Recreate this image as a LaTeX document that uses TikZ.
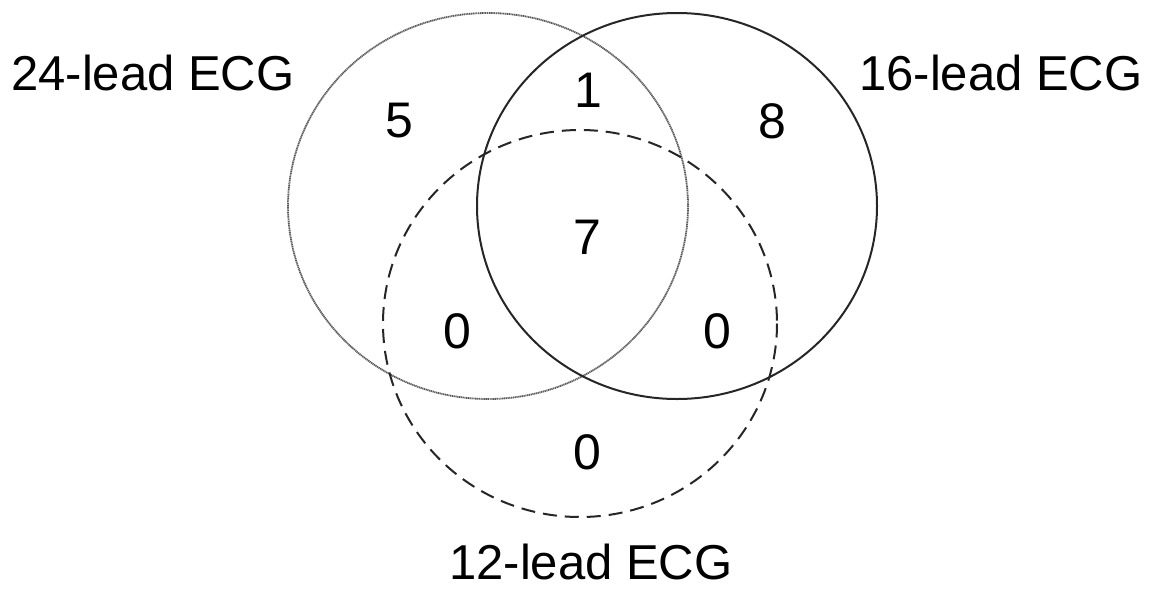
\documentclass[tikz,border=0pt]{standalone}
\usepackage{fontspec}
\setmainfont{Liberation Sans}
\begin{document}
\begin{tikzpicture}[x=1pt,y=-1pt,
  lbl/.style={font=\fontsize{49}{54}\selectfont, inner sep=0pt, anchor=base west, text depth=0pt},
  num/.style={font=\fontsize{50}{54}\selectfont, inner sep=0pt},
  setline/.style={line width=2pt}]
\useasboundingbox (0,0) rectangle (1156,592);
\draw[setline, line width=1.8pt, gray!70!black, dash pattern=on 1.2pt off 0.6pt] (488,206) ellipse [x radius=200, y radius=193];
\draw[setline, black!85] (677,206) ellipse [x radius=200, y radius=193];
\draw[setline, black!85, dash pattern=on 14pt off 8pt] (580,323.5) ellipse [x radius=197, y radius=193.5];
\node[lbl] (l24) at (11,90) {24-lead ECG};
\node[lbl] (l16) at (859,90) {16-lead ECG};
\node[lbl] (l12) at (449,579) {12-lead ECG};
\node[num] (n5) at (399,121) {5};
\node[num] (n1) at (588,90) {1};
\node[num] (n8) at (772,121) {8};
\node[num] (n7) at (587,237) {7};
\node[num] (n0a) at (457,331) {0};
\node[num] (n0b) at (717,331) {0};
\node[num] (n0c) at (587,452) {0};
\end{tikzpicture}
\end{document}
